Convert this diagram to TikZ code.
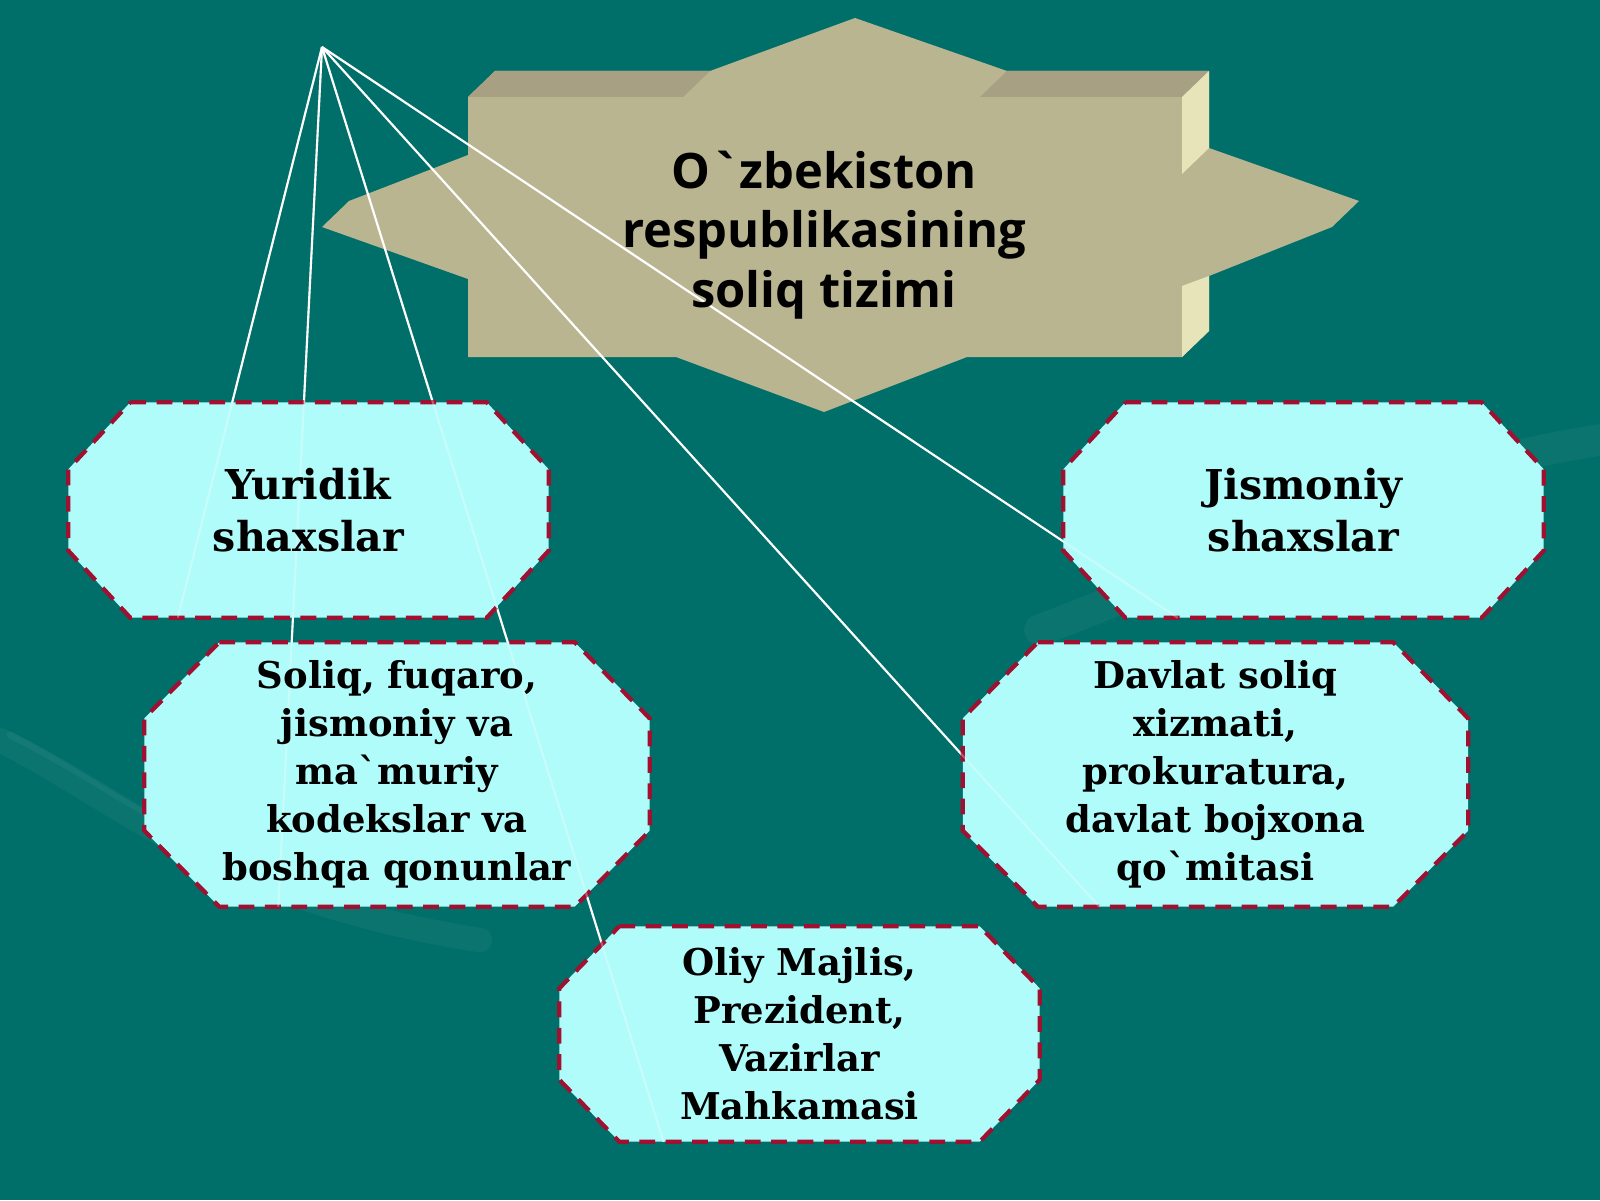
\documentclass[tikz,border=0pt]{standalone}
\usepackage{fontspec}
\setmainfont{DejaVu Serif}[Ligatures=TeXOff]
\newfontfamily\headfont{Open Sans}[Ligatures=TeXOff]
\usepackage{tikz}
\usetikzlibrary{calc,backgrounds}

\definecolor{sea}{HTML}{006E69}
\definecolor{sand}{HTML}{B9B590}
\definecolor{sandtop}{HTML}{A8A082}
\definecolor{sandside}{HTML}{E8E4B9}
\definecolor{ice}{HTML}{B0FCFA}
\definecolor{wine}{HTML}{A01030}

\begin{document}
\begin{tikzpicture}
\tikzstyle{cell}=[rectangle, inner sep=0pt, align=center, font=\bfseries\fontsize{10.5}{13.7}\selectfont, minimum width=5.04cm, minimum height=2.63cm];
\tikzstyle{smallcell}=[cell, font=\bfseries\fontsize{11.7}{14.8}\selectfont, minimum width=4.79cm, minimum height=2.14cm];
\tikzstyle{cellline}=[fill=ice, draw=wine, line width=1.2pt, dash pattern=on 4.5pt off 3pt];
\tikzstyle{ray}=[white, line width=0.6pt];
\tikzstyle{swoosh}=[white, opacity=0.045, line cap=round];

\useasboundingbox (0,0) rectangle (16,12);

% title and boxes
\node[align=center, font=\headfont\bfseries\fontsize{13.9}{17}\selectfont] (title) at (8.24,9.65) {O`zbekiston\\respublikasining\\soliq tizimi};
\node[smallcell] (yur) at (3.085,6.90) {Yuridik\\shaxslar};
\node[smallcell] (jis) at (13.035,6.90) {Jismoniy\\shaxslar};
\node[cell] (sol) at (3.97,4.255) {Soliq, fuqaro,\\jismoniy va\\ma`muriy\\kodekslar va\\boshqa qonunlar};
\node[cell] (dav) at (12.155,4.255) {Davlat soliq\\xizmati,\\prokuratura,\\davlat bojxona\\qo`mitasi};
\node[cell, minimum width=4.79cm, minimum height=2.14cm] (oli) at (7.995,1.66) {Oliy Majlis,\\Prezident,\\Vazirlar\\Mahkamasi};

\begin{pgfonlayer}{background}
\fill[sea] (0,0) rectangle (16,12);
\draw[swoosh, line width=7pt] (0,4.6) .. controls (1.2,4.0) and (2.2,3.0) .. (4.8,2.6);
\draw[swoosh, line width=2pt] (0.1,4.65) .. controls (0.8,4.3) and (1.2,4.0) .. (1.6,3.8);
\draw[swoosh, line width=9pt] (10.4,5.7) .. controls (12,6.3) and (14,7.3) .. (16,7.6);

% star
\fill[sand] (3.22,9.73) -- (3.49,9.99) -- (4.68,10.45) -- (4.68,11.03) -- (4.95,11.29) -- (7.10,11.29) -- (8.55,11.82) -- (10.07,11.29) -- (12.09,11.29) -- (12.09,10.52) -- (13.59,9.99) -- (13.32,9.73) -- (12.09,9.24) -- (12.09,8.69) -- (11.82,8.43) -- (9.67,8.43) -- (8.24,7.88) -- (6.76,8.43) -- (4.68,8.43) -- (4.68,9.21) -- cycle;
\fill[sandtop] (4.68,11.03) -- (4.95,11.29) -- (7.10,11.29) -- (6.83,11.03) -- cycle;
\fill[sandtop] (9.80,11.03) -- (10.07,11.29) -- (12.09,11.29) -- (11.82,11.03) -- cycle;
\fill[sandside] (11.82,11.03) -- (12.09,11.29) -- (12.09,10.52) -- (11.82,10.26) -- cycle;
\fill[sandside] (11.82,9.14) -- (12.09,9.24) -- (12.09,8.69) -- (11.82,8.43) -- cycle;

% rays
\coordinate (apex) at (3.22,11.53);
\foreach \n/\f in {yur/0.228, sol/0.265, oli/0.217, dav/0.27, jis/0.238}
  \draw[ray] (apex) -- ($(\n.south west)!\f!(\n.south east)$);

% boxes
\foreach \n/\cx/\cy in {yur/0.62/0.67, jis/0.62/0.67, oli/0.60/0.62, sol/0.75/0.76, dav/0.75/0.76}
  \filldraw[cellline] ([xshift=\cx cm]\n.north west) -- ([xshift=-\cx cm]\n.north east) -- ([yshift=-\cy cm]\n.north east) -- ([yshift=\cy cm]\n.south east) -- ([xshift=-\cx cm]\n.south east) -- ([xshift=\cx cm]\n.south west) -- ([yshift=\cy cm]\n.south west) -- ([yshift=-\cy cm]\n.north west) -- cycle;
\foreach \n/\f in {yur/0.228, sol/0.265, oli/0.217, dav/0.27, jis/0.238}
  \draw[ray, opacity=0.3] (apex) -- ($(\n.south west)!\f!(\n.south east)$);
\end{pgfonlayer}
\end{tikzpicture}
\end{document}
